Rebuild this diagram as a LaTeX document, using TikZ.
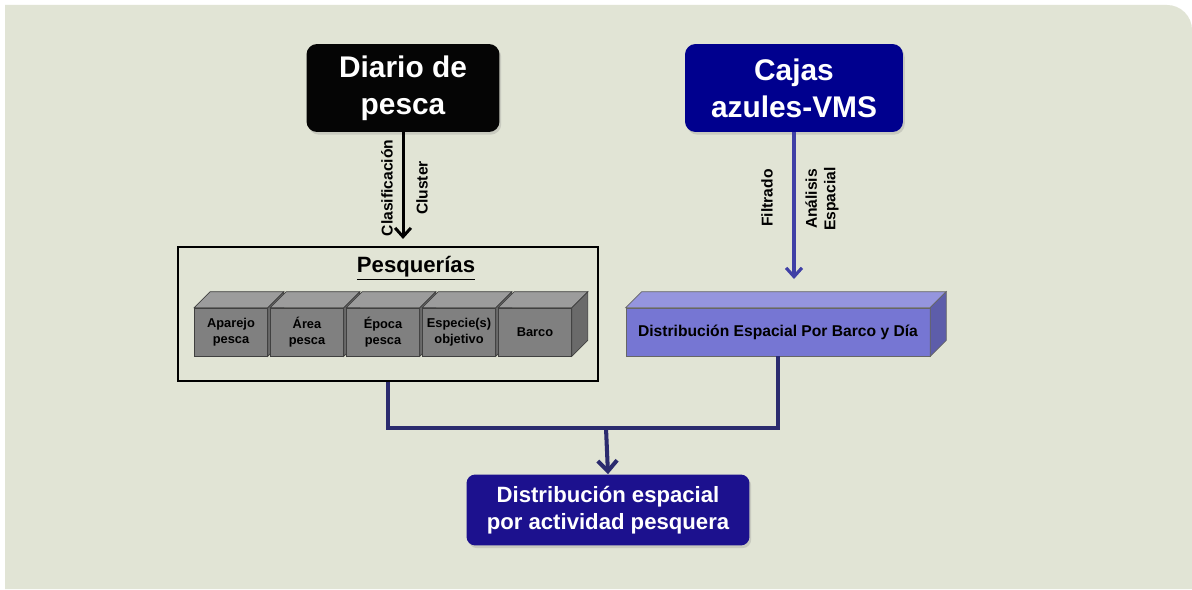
\documentclass[tikz,border=0pt]{standalone}
\usepackage{fontspec}
\setmainfont{Liberation Sans}
\usetikzlibrary{positioning, arrows.meta, shadows}
\definecolor{panelbg}{HTML}{E1E4D5}
\definecolor{diarioblack}{HTML}{050505}
\definecolor{vmsblue}{HTML}{00008E}
\definecolor{finalblue}{HTML}{1C118E}
\definecolor{linknavy}{HTML}{2B2B6E}
\definecolor{vmsarrow}{HTML}{3F3FA6}
\definecolor{cubefront}{HTML}{808080}
\definecolor{cubetop}{HTML}{9C9C9C}
\definecolor{cubeside}{HTML}{6A6A6A}
\definecolor{distfront}{HTML}{7676D3}
\definecolor{disttop}{HTML}{9595DE}
\definecolor{distside}{HTML}{5D5DAA}
\tikzstyle{source} = [rectangle, rounded corners=6pt, text=white, align=center,
    font=\fontsize{17}{21}\selectfont\bfseries, minimum height=1.76cm,
    drop shadow={opacity=0.25, shadow xshift=1pt, shadow yshift=-1.5pt}]
\tikzstyle{cube} = [rectangle, draw=black!75, fill=cubefront, align=center, inner sep=1pt,
    font=\fontsize{7.3}{9}\selectfont\bfseries, minimum width=1.46cm, minimum height=0.96cm]
\tikzstyle{tag} = [rotate=90, align=center, font=\fontsize{8.9}{10.5}\selectfont\bfseries]

\begin{document}
\begin{tikzpicture}[
x=0.02cm, y=0.02cm,
link/.style = {draw=linknavy, line width=2.3pt},
frame/.style = {rectangle, draw, line width=1.2pt, minimum width=8.4cm, minimum height=2.68cm},
final/.style = {rectangle, rounded corners=5pt, fill=finalblue, text=white, align=center,
    font=\fontsize{12.6}{15.6}\selectfont\bfseries, minimum width=5.66cm, minimum height=1.42cm,
    drop shadow={opacity=0.25, shadow xshift=1pt, shadow yshift=-1.5pt}}
                        ]
% background panel
\fill[white] (0,0) rectangle (1192,589);
\useasboundingbox (0,0) rectangle (1192,589);
\fill[panelbg] (5,0) -- (5,584) -- (1167,584) arc[start angle=90, end angle=0, radius=0.5cm] -- (1192,0) -- cycle;

% data sources
\node [source, fill=diarioblack, minimum width=3.86cm] (diario) at (403,501) {Diario de\\pesca};
\node [source, fill=vmsblue, minimum width=4.36cm] (cajas) at (794,501) {Cajas\\azules-VMS};

% fisheries frame
\node [frame] (pesq) at (388,275) {};
\node [font=\fontsize{12.6}{15}\selectfont\bfseries] (pesqtitle) at (416,321) {\underline{Pesquerías}};
\foreach \i/\txt in {0/{Aparejo\\pesca}, 1/{Área\\pesca}, 2/{Época\\pesca}, 3/{Especie(s)\\objetivo}, 4/Barco} {
  \node [cube] (c\i) at (231+76*\i,257) {\txt};
  \filldraw [fill=cubetop, draw=black!75] (c\i.north west) -- ++(16,16)
    -- ([shift={(16,16)}]c\i.north east) -- (c\i.north east) -- cycle;
  \filldraw [fill=cubeside, draw=black!75] (c\i.north east) -- ++(16,16)
    -- ([shift={(16,16)}]c\i.south east) -- (c\i.south east) -- cycle;
}

% spatial distribution box
\node [rectangle, draw=black!60, fill=distfront, minimum width=6.08cm, minimum height=0.96cm,
    font=\fontsize{8.9}{10}\selectfont\bfseries] (dist) at (778,257) {Distribución Espacial Por Barco y Día};
\filldraw [fill=disttop, draw=black!60] (dist.north west) -- ++(16,16)
  -- ([shift={(16,16)}]dist.north east) -- (dist.north east) -- cycle;
\filldraw [fill=distside, draw=black!60] (dist.north east) -- ++(16,16)
  -- ([shift={(16,16)}]dist.south east) -- (dist.south east) -- cycle;

% result
\node [final] (result) at (608,79) {Distribución espacial\\por actividad pesquera};

% arrows and labels
\draw [line width=1.7pt, -{Straight Barb[length=5pt, width=9pt]}, shorten >=4pt] (diario.south) -- (diario.south |- pesq.north);
\node [tag] (clasif) at (387,401) {Clasificación};
\node [tag] (cluster) at (422,401) {Cluster};

\coordinate (vmsend) at (794,310);
\draw [draw=vmsarrow, line width=1.8pt, -{Straight Barb[length=5pt, width=9pt]}] (cajas.south) -- (vmsend);
\node [tag] (filtrado) at (767,391) {Filtrado};
\node [tag] (analisis) at (822,390) {Análisis\\Espacial};

\coordinate (joint) at (606,161);
\draw [link] (pesq.south) |- (joint) -| (dist.south);
\draw [link, -{Straight Barb[length=6pt, width=11pt]}] (joint) -- (result.north);
\end{tikzpicture}
\end{document}
